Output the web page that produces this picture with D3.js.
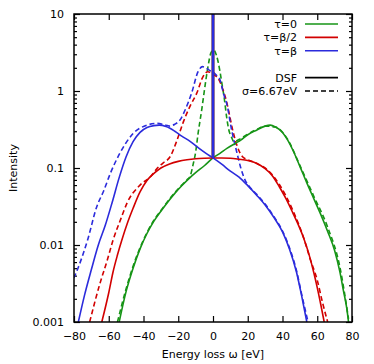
<!DOCTYPE html>
<html>
<head>
<meta charset="utf-8">
<script src="https://cdn.jsdelivr.net/npm/d3@7"></script>
<style>
  body { margin: 0; background: #fff; }
  text { font-family: "DejaVu Sans", sans-serif; font-size: 11px; fill: #000; }
</style>
</head>
<body>
<div id="chart"></div>
<script>
// tick labels
const xTicks = [-80, -60, -40, -20, 0, 20, 40, 60, 80];
const yTicks = [0.001, 0.01, 0.1, 1, 10];
const yTickLabels = ["0.001", "0.01", "0.1", "1", "10"];

// DSF, tau = 0
const greenW = [-54, -50, -46, -42, -38, -34, -30, -26, -22, -18, -14, -10, -5, 0, 4, 8, 13, 16, 20, 25, 30, 33, 36, 40, 43, 46, 50, 54, 58, 62, 66, 70, 73, 75, 77, 78];
const greenI = [0.001, 0.0025, 0.005, 0.0089, 0.0141, 0.0204, 0.0275, 0.0363, 0.0468, 0.0589, 0.0724, 0.087, 0.107, 0.135, 0.155, 0.18, 0.21, 0.23, 0.27, 0.31, 0.35, 0.36, 0.34, 0.29, 0.23, 0.17, 0.105, 0.064, 0.04, 0.025, 0.015, 0.0085, 0.0045, 0.0026, 0.0015, 0.001];
// DSF, tau = beta/2
const redW = [-64, -60, -57.5, -55, -52.5, -49, -46, -42, -38, -34, -30, -25, -20, -15, -10, -5, 0, 5, 10, 15, 20, 25, 30, 34, 38, 42, 46, 49, 52, 55, 58, 60, 62, 64];
const redI = [0.001, 0.0024, 0.0045, 0.0074, 0.0115, 0.02, 0.03, 0.049, 0.069, 0.085, 0.1, 0.113, 0.122, 0.128, 0.132, 0.134, 0.135, 0.135, 0.134, 0.13, 0.125, 0.115, 0.098, 0.08, 0.058, 0.04, 0.026, 0.0185, 0.0126, 0.0079, 0.0044, 0.0028, 0.0017, 0.001];
// DSF, tau = beta
const blueW = [-77.5, -74, -70, -66, -62, -58, -54, -50, -46, -42, -38, -34, -31, -27, -22, -18, -13, -8, -4, 0, 5, 10, 15, 20, 25, 30, 35, 40, 44, 48, 51, 54];
const blueI = [0.001, 0.0022, 0.0048, 0.01, 0.018, 0.036, 0.075, 0.14, 0.22, 0.29, 0.335, 0.355, 0.36, 0.345, 0.3, 0.26, 0.22, 0.18, 0.155, 0.135, 0.112, 0.091, 0.076, 0.059, 0.0447, 0.0331, 0.0229, 0.0148, 0.0089, 0.0045, 0.0022, 0.001];

// broadened, sigma = 6.67 eV
const greenDashW = [-55, -50, -46, -42, -38, -34, -30, -26, -22, -18, -15, -13, -11.5, -10, -8.6, -6.5, -5, -3, -1, 0.5, 2, 4, 5, 6.5, 7.9, 9, 10.7, 12, 15, 20, 25, 30, 36, 43, 50, 58, 66, 73, 78];
const greenDashI = [0.001, 0.0027, 0.0053, 0.0092, 0.0145, 0.021, 0.028, 0.037, 0.048, 0.06, 0.07, 0.08, 0.11, 0.16, 0.28, 0.57, 1.0, 2.0, 3.2, 3.4, 2.9, 1.8, 1.3, 0.8, 0.45, 0.32, 0.25, 0.22, 0.235, 0.275, 0.315, 0.35, 0.34, 0.235, 0.108, 0.043, 0.017, 0.0052, 0.0011];
const redDashW = [-71, -65, -61, -57.5, -53, -49.5, -42, -36, -32, -28.8, -24.7, -20.7, -17, -13, -9.4, -5.8, -3, -1, 1, 3, 5.8, 8, 9, 11.5, 14, 17, 20, 23, 26, 30, 38, 46, 52, 56, 60, 63, 66];
const redDashI = [0.001, 0.0032, 0.0062, 0.0116, 0.022, 0.035, 0.06, 0.077, 0.1, 0.116, 0.14, 0.23, 0.4, 0.65, 0.93, 1.53, 1.78, 1.72, 1.6, 1.45, 1.03, 0.7, 0.55, 0.3, 0.19, 0.14, 0.128, 0.12, 0.112, 0.1, 0.062, 0.028, 0.0127, 0.0065, 0.0035, 0.0018, 0.001];
const blueDashW = [-82, -77.7, -72, -67, -63, -59, -53.5, -46, -38, -32, -27, -24.7, -22, -19, -16, -12.3, -8.6, -6, -4, -2, 0, 2, 4, 6, 8.7, 10, 13.8, 16, 18.4, 21, 25, 30, 35, 40, 44, 48, 51, 54.7];
const blueDashI = [0.003, 0.005, 0.012, 0.031, 0.05, 0.086, 0.157, 0.28, 0.36, 0.38, 0.36, 0.35, 0.37, 0.42, 0.57, 0.94, 1.78, 2.07, 2.0, 1.85, 1.77, 1.6, 1.4, 0.94, 0.57, 0.38, 0.157, 0.1, 0.07, 0.057, 0.046, 0.034, 0.0235, 0.0152, 0.0092, 0.0047, 0.0023, 0.001];

// delta peak at zero loss
const peakW = 0;
const peakBase = 0.135;
const peakTop = 10;

const legendLabels = ["τ=0", "τ=β/2", "τ=β"];
const styleLabels = ["DSF", "σ=6.67eV"];

const colors = { green: "#169416", red: "#d20000", blue: "#2b2bdc" };

const margin = { top: 14, right: 22, bottom: 42, left: 74 };
const width = 374 - margin.left - margin.right;
const height = 364 - margin.top - margin.bottom;

const svg = d3.select("#chart")
    .append("svg")
    .attr("width", 374)
    .attr("height", 364);

const g = svg.append("g")
    .attr("transform", `translate(${margin.left},${margin.top})`);

const x = d3.scaleLinear().domain([-80, 80]).range([0, width]);
const y = d3.scaleLog().domain([0.001, 10]).range([height, 0]);

g.append("clipPath")
    .attr("id", "clip")
    .append("rect")
    .attr("width", width)
    .attr("height", height);

// axes, ticks pointing inward on all four sides
const minor = [];
for (let e = -3; e < 1; e++) {
    for (let k = 2; k <= 9; k++) minor.push(k * Math.pow(10, e));
}

g.append("g")
    .attr("transform", `translate(0,${height})`)
    .call(d3.axisBottom(x).tickValues(xTicks).tickSizeInner(-6).tickSizeOuter(0).tickPadding(10).tickFormat(d3.format("d")));
g.append("g")
    .call(d3.axisTop(x).tickValues(xTicks).tickSizeInner(-6).tickSizeOuter(0).tickFormat(""));
g.append("g")
    .call(d3.axisLeft(y).tickValues(yTicks).tickSizeInner(-6).tickSizeOuter(0).tickPadding(10).tickFormat((d, i) => yTickLabels[i]));
g.append("g")
    .call(d3.axisLeft(y).tickValues(minor).tickSizeInner(-3).tickSizeOuter(0).tickFormat(""));
g.append("g")
    .attr("transform", `translate(${width},0)`)
    .call(d3.axisRight(y).tickValues(yTicks).tickSizeInner(-6).tickSizeOuter(0).tickFormat(""));
g.append("g")
    .attr("transform", `translate(${width},0)`)
    .call(d3.axisRight(y).tickValues(minor).tickSizeInner(-3).tickSizeOuter(0).tickFormat(""));

g.selectAll(".domain").remove();
g.selectAll(".tick line").attr("stroke", "#000").attr("stroke-width", 1.2);
g.selectAll(".tick text").style("font-family", "DejaVu Sans, sans-serif").style("font-size", "11px");

const line = d3.line()
    .x(d => x(d[0]))
    .y(d => y(d[1]))
    .curve(d3.curveMonotoneX);

const plot = g.append("g").attr("clip-path", "url(#clip)");

const series = [
    { w: greenDashW, v: greenDashI, c: colors.green, dash: "5,3" },
    { w: redDashW, v: redDashI, c: colors.red, dash: "5,3" },
    { w: blueDashW, v: blueDashI, c: colors.blue, dash: "5,3" },
    { w: greenW, v: greenI, c: colors.green, dash: null },
    { w: redW, v: redI, c: colors.red, dash: null },
    { w: blueW, v: blueI, c: colors.blue, dash: null }
];

series.forEach(s => {
    plot.append("path")
        .datum(d3.zip(s.w, s.v))
        .attr("fill", "none")
        .attr("stroke", s.c)
        .attr("stroke-width", 1.6)
        .attr("stroke-dasharray", s.dash)
        .attr("d", line);
});

// the delta peak, green and red hidden under blue
[colors.green, colors.red, colors.blue].forEach(c => {
    plot.append("line")
        .attr("x1", x(peakW)).attr("x2", x(peakW))
        .attr("y1", y(peakBase)).attr("y2", y(peakTop))
        .attr("stroke", c)
        .attr("stroke-width", 2.6);
});

// frame
g.append("rect")
    .attr("width", width)
    .attr("height", height)
    .attr("fill", "none")
    .attr("stroke", "#000")
    .attr("stroke-width", 1.5);

// axis titles
svg.append("text")
    .attr("x", margin.left + width / 2)
    .attr("y", 358)
    .attr("text-anchor", "middle")
    .text("Energy loss ω [eV]");

svg.append("text")
    .attr("transform", `translate(17,${margin.top + height / 2}) rotate(-90)`)
    .attr("text-anchor", "middle")
    .text("Intensity");

// legend
const legend = svg.append("g").attr("transform", "translate(297,24)");
const rows = [
    { t: legendLabels[0], c: colors.green, dash: null, r: 0 },
    { t: legendLabels[1], c: colors.red, dash: null, r: 1 },
    { t: legendLabels[2], c: colors.blue, dash: null, r: 2 },
    { t: styleLabels[0], c: "#000", dash: null, r: 4 },
    { t: styleLabels[1], c: "#000", dash: "5,3", r: 5 }
];
rows.forEach(d => {
    legend.append("text")
        .attr("x", 0)
        .attr("y", d.r * 13.4 + 4)
        .attr("text-anchor", "end")
        .text(d.t);
    legend.append("line")
        .attr("x1", 8).attr("x2", 41)
        .attr("y1", d.r * 13.4).attr("y2", d.r * 13.4)
        .attr("stroke", d.c)
        .attr("stroke-width", 1.6)
        .attr("stroke-dasharray", d.dash);
});
</script>
</body>
</html>
